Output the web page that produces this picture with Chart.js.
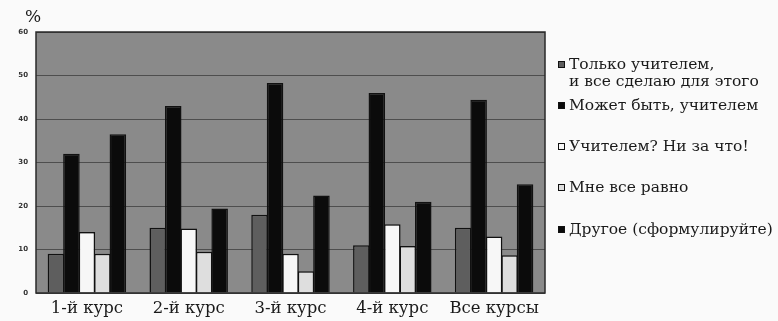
<!DOCTYPE html>
<html lang="ru">
<head>
<meta charset="utf-8">
<title>Кем вы хотите стать</title>
<script src="https://cdn.jsdelivr.net/npm/chart.js@4.4.1/dist/chart.umd.min.js"></script>
<style>
    html, body { margin: 0; padding: 0; background: #fafafa; }
    #wrap { position: relative; width: 778px; height: 321px; }
    #pct { position: absolute; left: 25px; top: 6px; font-family: "DejaVu Serif"; font-size: 17px; color: #1a1a1a; }
    #legend { position: absolute; left: 558px; top: 0; font-family: "DejaVu Serif"; font-size: 15.5px; color: #1a1a1a; }
    .item { position: absolute; left: 0; white-space: nowrap; }
    .box { position: absolute; left: 0; width: 5px; height: 5px; border: 1px solid #111; }
    .txt { position: absolute; left: 11px; line-height: 17px; }
</style>
</head>
<body>
<div id="wrap">
    <canvas id="chart" width="778" height="321"></canvas>
    <div id="pct">%</div>
    <div id="legend"></div>
</div>
<script>
"use strict";
// данные опроса, % студентов
const categories = ["1-й курс", "2-й курс", "3-й курс", "4-й курс", "Все курсы"];
const seriesNames = [
    ["Только учителем,", "и все сделаю для этого"],
    ["Может быть, учителем"],
    ["Учителем? Ни за что!"],
    ["Мне все равно"],
    ["Другое (сформулируйте)"],
];
const onlyTeacher = [9, 15, 18, 11, 15];
const maybeTeacher = [32, 43, 48.3, 46, 44.4];
const neverTeacher = [14, 14.8, 9, 15.8, 13];
const dontCare = [9, 9.5, 5, 10.8, 8.7];
const other = [36.5, 19.4, 22.4, 21, 25];
const yTicks = [0, 10, 20, 30, 40, 50, 60];

const series = [onlyTeacher, maybeTeacher, neverTeacher, dontCare, other];
const colors = ["#5e5e5e", "#0b0b0b", "#f7f7f7", "#dedede", "#0b0b0b"];
const legendTop = [64, 105, 146, 187, 229];

const plotBox = {
    id: "plotBox",
    beforeDraw(chart) {
        const a = chart.chartArea;
        const ctx = chart.ctx;
        ctx.save();
        ctx.fillStyle = "#8a8a8a";
        ctx.fillRect(a.left, a.top, a.right - a.left, a.bottom - a.top);
        ctx.restore();
    },
    afterDraw(chart) {
        const a = chart.chartArea;
        const ctx = chart.ctx;
        ctx.save();
        ctx.strokeStyle = "#2a2a2a";
        ctx.lineWidth = 1.5;
        ctx.strokeRect(a.left, a.top, a.right - a.left, a.bottom - a.top);
        ctx.restore();
    },
};

const chart = new Chart(document.getElementById("chart"), {
    type: "bar",
    data: {
        labels: categories,
        datasets: series.map((values, i) => ({
            label: seriesNames[i].join(" "),
            data: values,
            backgroundColor: colors[i],
            borderColor: "#111",
            borderWidth: 1.5,
            categoryPercentage: 0.76,
            barPercentage: 1.07,
        })),
    },
    options: {
        responsive: false,
        animation: false,
        layout: { padding: { left: 0, right: 233, top: 32, bottom: 0 } },
        plugins: { legend: { display: false }, tooltip: { enabled: false } },
        scales: {
            x: {
                grid: { display: false },
                border: { display: false },
                ticks: { font: { family: "DejaVu Serif", size: 16.5 }, color: "#1a1a1a", padding: -2 },
                afterFit(s) { s.height = 28; },
            },
            y: {
                min: 0,
                max: 60,
                afterBuildTicks(s) { s.ticks = yTicks.map(v => ({ value: v })); },
                grid: { color: "#4e4e4e", lineWidth: 1, drawTicks: false },
                border: { display: false },
                ticks: { font: { family: "DejaVu Sans", size: 7, weight: "bold" }, color: "#333", padding: 8 },
                afterFit(s) { s.width = 36; },
            },
        },
    },
    plugins: [plotBox],
});

// легенда справа
const legend = document.getElementById("legend");
chart.data.datasets.forEach((ds, i) => {
    const item = document.createElement("div");
    item.className = "item";
    item.style.top = (legendTop[i] - 8.5) + "px";
    const box = document.createElement("div");
    box.className = "box";
    box.style.top = "5px";
    box.style.background = ds.backgroundColor;
    const txt = document.createElement("div");
    txt.className = "txt";
    txt.innerHTML = seriesNames[i].map(s => s.replace(/&/g, "&amp;").replace(/</g, "&lt;")).join("<br>");
    item.appendChild(box);
    item.appendChild(txt);
    legend.appendChild(item);
});
</script>
</body>
</html>
